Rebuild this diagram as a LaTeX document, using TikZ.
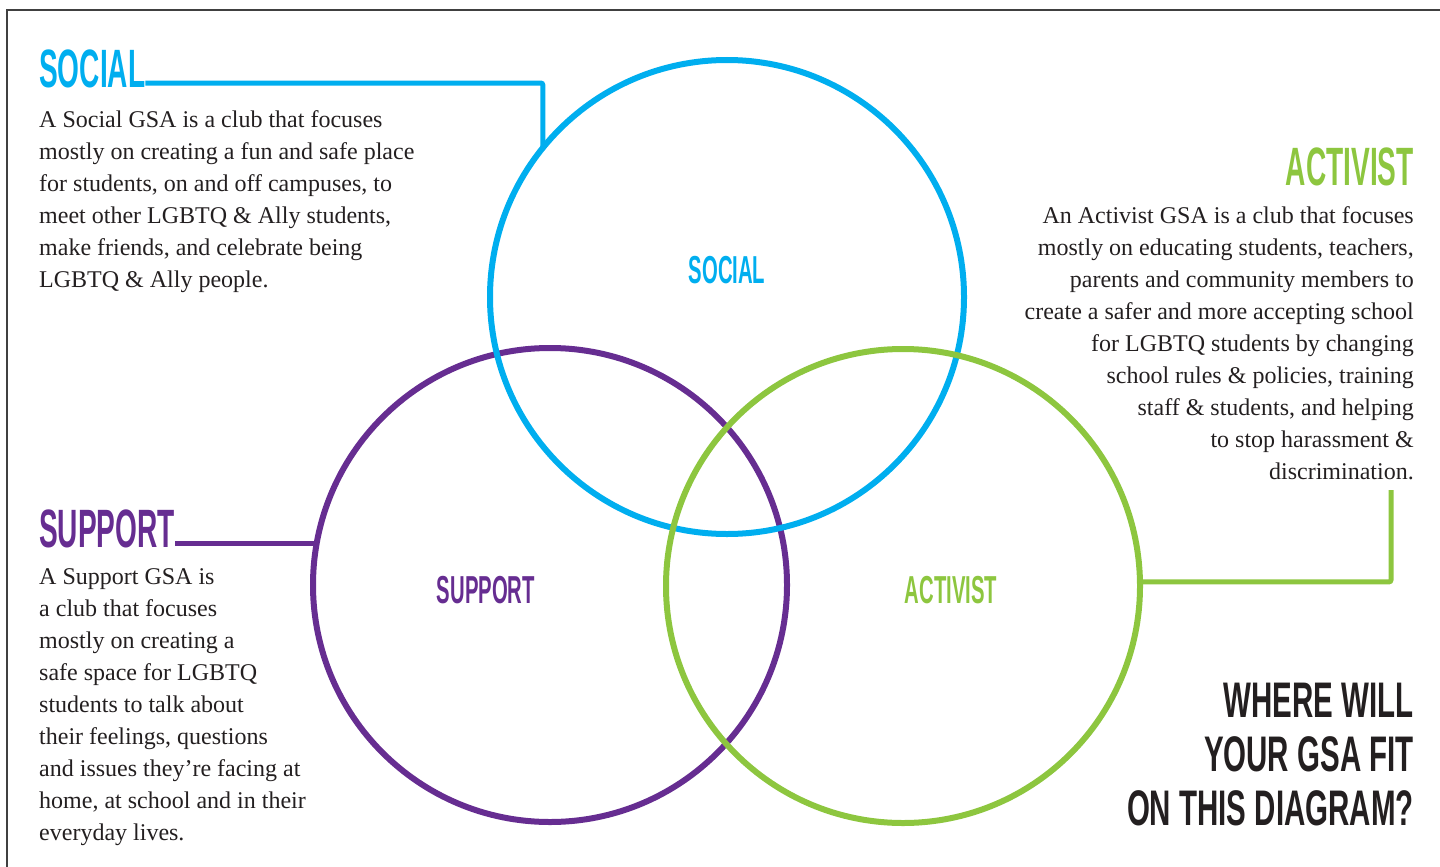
\documentclass[tikz,border=0pt]{standalone}
\usepackage{fontspec}
\setmainfont{Liberation Serif}
\newfontfamily\headfont[FakeStretch=0.52]{Liberation Sans}
\newfontfamily\questfont[FakeStretch=0.59]{Liberation Sans}
\definecolor{socblue}{HTML}{00AEEF}
\definecolor{suppurple}{HTML}{662D91}
\definecolor{actgreen}{HTML}{8DC63F}
\definecolor{inkblack}{HTML}{231F20}
\begin{document}
\begin{tikzpicture}[x=1pt,y=-1pt,
  ring/.style={draw,circle,line width=6pt,minimum size=474pt,inner sep=0pt,outer sep=0pt},
  head/.style={inner sep=0pt,font=\headfont\bfseries\fontsize{54}{54}\selectfont},
  inlabel/.style={inner sep=0pt,font=\headfont\bfseries\fontsize{39}{39}\selectfont},
  para/.style={inner sep=0pt,text=inkblack,font=\fontsize{24}{32}\selectfont},
  link/.style={line width=5pt,rounded corners=2pt}]
\useasboundingbox (0,0) rectangle (1440,867);
\draw [line width=1.2pt,black!75] (7,867)--(7,10)--(1440,10);
\node [ring,suppurple] (sup) at (550,585) {};
\node [ring,socblue] (soc) at (727,297) {};
\node [ring,actgreen] (act) at (903,586) {};
\node [inlabel,socblue] (soclabel) at (727,270) {SOCIAL};
\node [inlabel,suppurple] (suplabel) at (486,590) {SUPPORT};
\node [inlabel,actgreen] (actlabel) at (951,590) {ACTIVIST};
\node [head,socblue,anchor=base west] (sochead) at (39,87) {SOCIAL};
\node [head,suppurple,anchor=base west] (suphead) at (39,547) {SUPPORT};
\node [head,actgreen,anchor=base east] (acthead) at (1414,185) {ACTIVIST};
\node [para,anchor=north west,align=left] (soctext) at (39,110) {A Social GSA is a club that focuses\\
mostly on creating a fun and safe place\\
for students, on and off campuses, to\\
meet other LGBTQ \& Ally students,\\
make friends, and celebrate being\\
LGBTQ \& Ally people.};
\node [para,anchor=north east,align=right] (acttext) at (1414,206) {An Activist GSA is a club that focuses\\
mostly on educating students, teachers,\\
parents and community members to\\
create a safer and more accepting school\\
for LGBTQ students by changing\\
school rules \& policies, training\\
staff \& students, and helping\\
to stop harassment \&\\
discrimination.};
\node [para,anchor=north west,align=left] (suptext) at (39,568) {A Support GSA is\\
a club that focuses\\
mostly on creating a\\
safe space for LGBTQ\\
students to talk about\\
their feelings, questions\\
and issues they’re facing at\\
home, at school and in their\\
everyday lives.};
\node [anchor=south east,align=right,inner sep=0pt,text=inkblack,font=\questfont\bfseries\fontsize{50}{54}\selectfont] (question) at (1414,826) {WHERE WILL\\YOUR GSA FIT\\ON THIS DIAGRAM?};
\coordinate (socstart) at ([yshift=4pt]sochead.base east);
\coordinate (supstart) at ([yshift=4pt]suphead.base east);
\coordinate (actend) at (1391,490);
\draw [link,socblue] (socstart) -| (soc.141);
\draw [link,suppurple] (supstart) -- (sup.170 |- supstart);
\draw [link,actgreen] (act.1) -| (actend);
\end{tikzpicture}
\end{document}
